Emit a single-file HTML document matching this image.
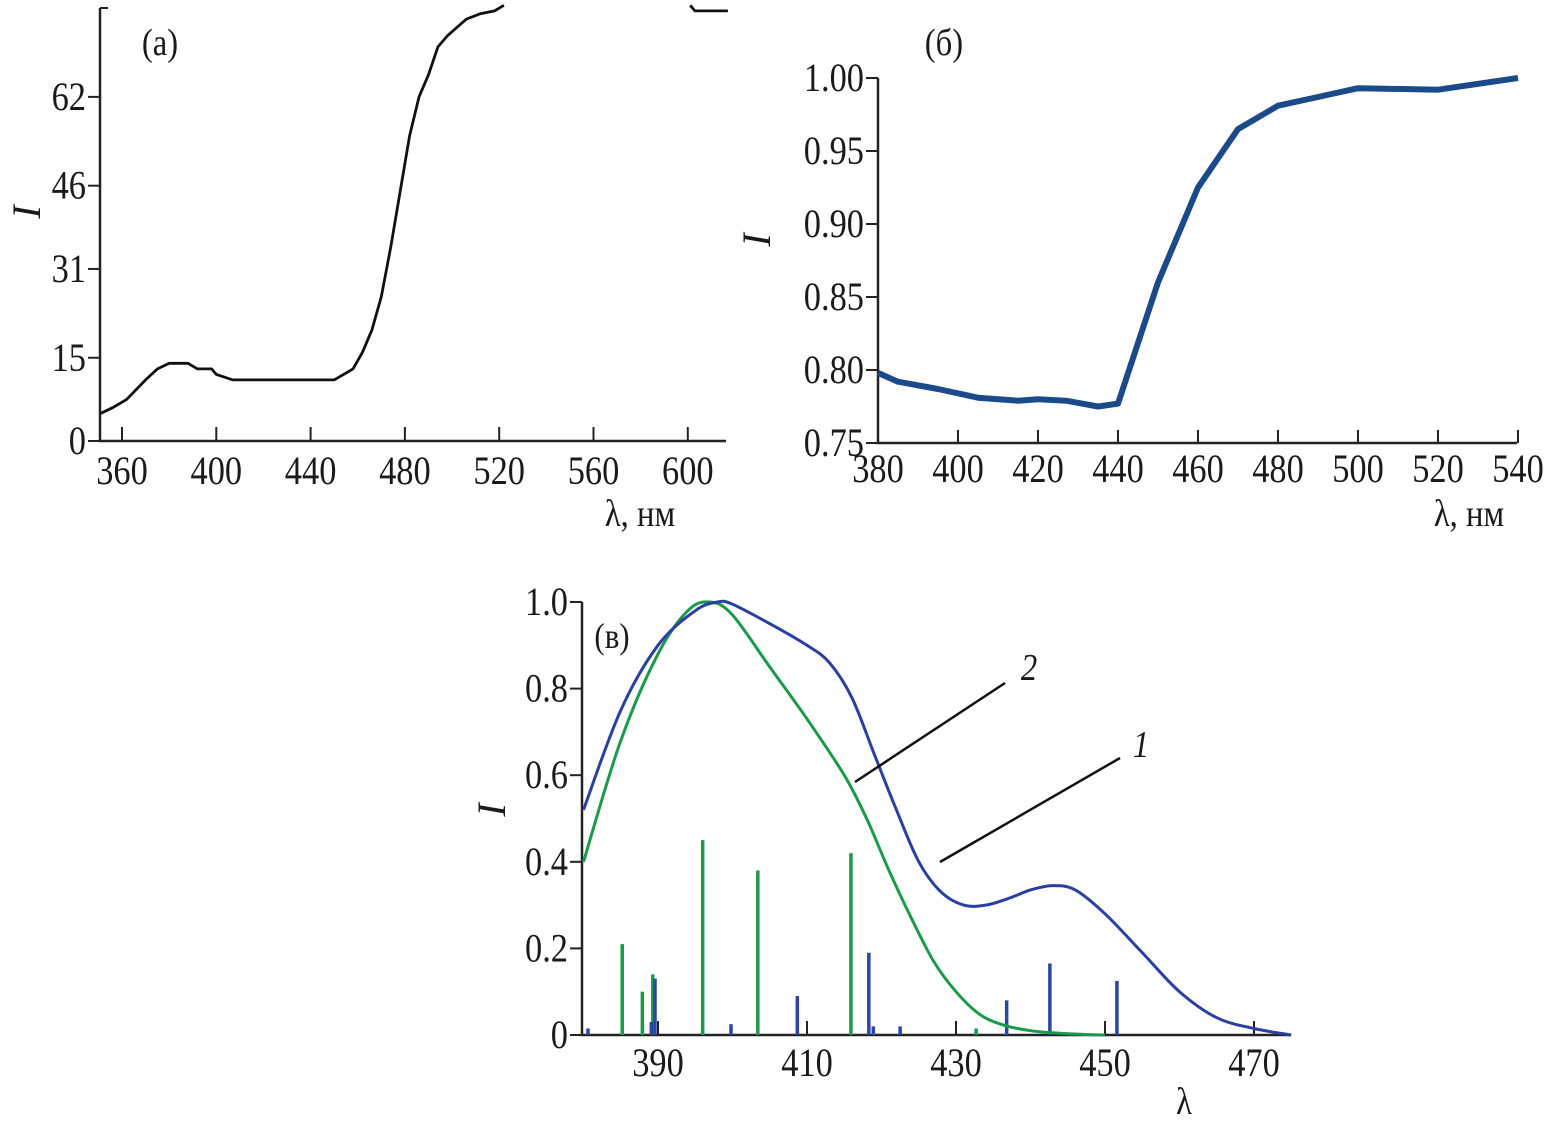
<!DOCTYPE html>
<html><head><meta charset="utf-8"><style>
html,body{margin:0;padding:0;background:#fff}
svg{display:block}
text{font-family:"Liberation Serif",serif;fill:#1a1a1a}
</style></head><body>
<svg id="fig" width="1548" height="1127" viewBox="0 0 1548 1127">
<g id="pa"></g>
<g id="pb"></g>
<g id="pc"></g>
</svg>
<script>
// Panel (a)
const aLambda=[351,356,362,370,375,380,388,392,398,400,407,450,454,458,462,466,470,474,478,482,486,490,494,498,502,506,512,518,522];
const aI=[5,6,7.5,11,13,14,14,13,13,12,11,11,12,13,16,20,26,35,45,55,62,66,71,73,74.5,76,77,77.5,78.5];
const aTailLambda=[601,603,617];
const aTailI=[78.5,77.5,77.5];
const aXTicks=[360,400,440,480,520,560,600];
const aYTicks=[0,15,31,46,62];
// Panel (б)
const bLambda=[380,385,395,405,415,420,427,435,440,450,460,470,480,490,500,520,540];
const bI=[0.798,0.792,0.787,0.781,0.779,0.780,0.779,0.775,0.777,0.86,0.925,0.965,0.981,0.987,0.993,0.992,1.0];
const bXTicks=[380,400,420,440,460,480,500,520,540];
const bYTicks=[0.75,0.80,0.85,0.90,0.95,1.00];
const bYLabels=["0.75","0.80","0.85","0.90","0.95","1.00"];
// Panel (в)
const c1Lambda=[380,385,390,395,398,400,405,410,413,416,419,422,425,428,431,434,437,440,443,446,450,455,460,465,470,475];
const c1I=[0.52,0.75,0.9,0.98,1.0,0.995,0.95,0.9,0.86,0.78,0.65,0.52,0.4,0.33,0.3,0.3,0.315,0.335,0.345,0.335,0.28,0.19,0.1,0.04,0.015,0];
const c2Lambda=[380,385,390,394,397,400,405,410,415,418,421,424,427,430,433,436,440,445,450];
const c2I=[0.4,0.68,0.88,0.98,1.0,0.97,0.85,0.73,0.6,0.5,0.38,0.27,0.17,0.1,0.05,0.025,0.01,0.003,0];
const gStickLambda=[385.2,387.9,389.3,396.0,403.4,415.9,432.7];
const gStickI=[0.21,0.10,0.14,0.45,0.38,0.42,0.015];
const bStickLambda=[380.6,389.1,389.6,399.8,408.7,418.3,418.9,422.5,436.8,442.6,451.6];
const bStickI=[0.015,0.03,0.13,0.025,0.09,0.19,0.02,0.02,0.08,0.165,0.125];
const cXTicks=[390,410,430,450,470];
const cYTicks=[0,0.2,0.4,0.6,0.8,1.0];
const cYLabels=["0","0.2","0.4","0.6","0.8","1.0"];

const NS="http://www.w3.org/2000/svg";
function mk(p,tag,at){const e=document.createElementNS(NS,tag);for(const k in at)e.setAttribute(k,at[k]);p.appendChild(e);return e;}
function txt(p,x,y,s,size,anchor,style){const t=mk(p,'text',{x:0,y:0,'font-size':size,'text-anchor':anchor||'middle',transform:'translate('+x+','+y+') scale(0.86,1)'});if(style)t.setAttribute('style',style);t.textContent=s;return t;}
function poly(xs,ys,X,Y){return xs.map((v,i)=>X(v).toFixed(1)+','+Y(ys[i]).toFixed(1)).join(' ');}
function smooth(xs,ys,X,Y){
 const P=xs.map((v,i)=>[X(v),Y(ys[i])]);
 let d='M'+P[0][0].toFixed(1)+','+P[0][1].toFixed(1);
 for(let i=0;i<P.length-1;i++){
  const p0=P[Math.max(0,i-1)],p1=P[i],p2=P[i+1],p3=P[Math.min(P.length-1,i+2)];
  const c1=[p1[0]+(p2[0]-p0[0])/6,p1[1]+(p2[1]-p0[1])/6];
  const c2=[p2[0]-(p3[0]-p1[0])/6,p2[1]-(p3[1]-p1[1])/6];
  d+=' C'+c1[0].toFixed(1)+','+c1[1].toFixed(1)+' '+c2[0].toFixed(1)+','+c2[1].toFixed(1)+' '+p2[0].toFixed(1)+','+p2[1].toFixed(1);
 }
 return d;
}

// ---------- Panel a
(function(){
const g=document.getElementById('pa');
const X=l=>122+(l-360)*(94.3/40), Y=v=>441-v*5.55;
const ax=mk(g,'path',{d:'M100,8 L100,441 L726,441',fill:'none',stroke:'#222','stroke-width':2.5});

mk(g,'line',{x1:100,y1:8,x2:108,y2:8,stroke:'#222','stroke-width':2});
aXTicks.forEach(v=>{
 mk(g,'line',{x1:X(v),y1:441,x2:X(v),y2:427,stroke:'#222','stroke-width':2});
 const t=txt(g,X(v),484,String(v),40);
 
});
aYTicks.forEach(v=>{
 mk(g,'line',{x1:100,y1:Y(v),x2:88,y2:Y(v),stroke:'#222','stroke-width':2});
 const t=txt(g,86,Y(v)+13,String(v),40,'end');
 
});
const l=mk(g,'polyline',{points:poly(aLambda,aI,X,Y),fill:'none',stroke:'#111','stroke-width':2.8});

const l2=mk(g,'polyline',{points:poly(aTailLambda,aTailI,X,Y),fill:'none',stroke:'#111','stroke-width':2.8});

let t=txt(g,160,55,'(a)',38);
t=txt(g,640,526,'λ, нм',38);
t=mk(g,'text',{x:0,y:0,'font-size':40,'text-anchor':'middle',style:'font-style:italic',transform:'translate(40,212) rotate(-90)'});t.textContent='I';

})();

// ---------- Panel b
(function(){
const g=document.getElementById('pb');
const X=l=>878+(l-380)*(80/20), Y=v=>443-(v-0.75)*(73/0.05);
const ax=mk(g,'path',{d:'M878,78 L878,443 L1517,443',fill:'none',stroke:'#222','stroke-width':2.5});

bXTicks.forEach(v=>{
 mk(g,'line',{x1:X(v),y1:443,x2:X(v),y2:430,stroke:'#222','stroke-width':2});
 const t=txt(g,X(v),482,String(v),40);
 
});
bYTicks.forEach((v,i)=>{
 mk(g,'line',{x1:878,y1:Y(v),x2:866,y2:Y(v),stroke:'#222','stroke-width':2});
 const t=txt(g,864,Y(v)+13,bYLabels[i],40,'end');
 
});
const l=mk(g,'polyline',{points:poly(bLambda,bI,X,Y),fill:'none',stroke:'#1b4a8a','stroke-width':6,'stroke-linejoin':'round'});

let t=txt(g,944,55,'(б)',38);
t=txt(g,1469,526,'λ, нм',38);
t=mk(g,'text',{x:0,y:0,'font-size':40,'text-anchor':'middle',style:'font-style:italic',transform:'translate(770,240) rotate(-90)'});t.textContent='I';

})();

// ---------- Panel c
(function(){
const g=document.getElementById('pc');
const X=l=>658+(l-390)*(149/20), Y=v=>1035-v*433;
const ax=mk(g,'path',{d:'M582,602 L582,1035 L1290,1035',fill:'none',stroke:'#222','stroke-width':2.5});

gStickLambda.forEach((v,i)=>{
 const s=mk(g,'line',{x1:X(v),y1:1035,x2:X(v),y2:Y(gStickI[i]),stroke:'#1a9a4a','stroke-width':3.5});
 
});
bStickLambda.forEach((v,i)=>{
 const s=mk(g,'line',{x1:X(v),y1:1035,x2:X(v),y2:Y(bStickI[i]),stroke:'#2a47a8','stroke-width':3.5});
 
});
cXTicks.forEach(v=>{
 mk(g,'line',{x1:X(v),y1:1035,x2:X(v),y2:1021,stroke:'#222','stroke-width':2});
 const t=txt(g,X(v),1076,String(v),40);
 
});
cYTicks.forEach((v,i)=>{
 mk(g,'line',{x1:582,y1:Y(v),x2:570,y2:Y(v),stroke:'#222','stroke-width':2});
 const t=txt(g,568,Y(v)+13,cYLabels[i],40,'end');
 
});
const l2=mk(g,'path',{d:smooth(c2Lambda,c2I,X,Y),fill:'none',stroke:'#1a9a4a','stroke-width':3,'stroke-linejoin':'round'});

const l1=mk(g,'path',{d:smooth(c1Lambda,c1I,X,Y),fill:'none',stroke:'#2a3fa0','stroke-width':3,'stroke-linejoin':'round'});

let a=mk(g,'line',{x1:1005,y1:683,x2:855,y2:782,stroke:'#111','stroke-width':2.5});

a=mk(g,'line',{x1:1120,y1:758,x2:940,y2:862,stroke:'#111','stroke-width':2.5});

let t=txt(g,1029,680,'2',38,'middle','font-style:italic');
t=txt(g,1141,757,'1',38,'middle','font-style:italic');
t=txt(g,612,648,'(в)',36);
t=txt(g,1184,1114,'λ',38);
t=mk(g,'text',{x:0,y:0,'font-size':40,'text-anchor':'middle',style:'font-style:italic',transform:'translate(505,810) rotate(-90)'});t.textContent='I';

})();
</script>
</body></html>
